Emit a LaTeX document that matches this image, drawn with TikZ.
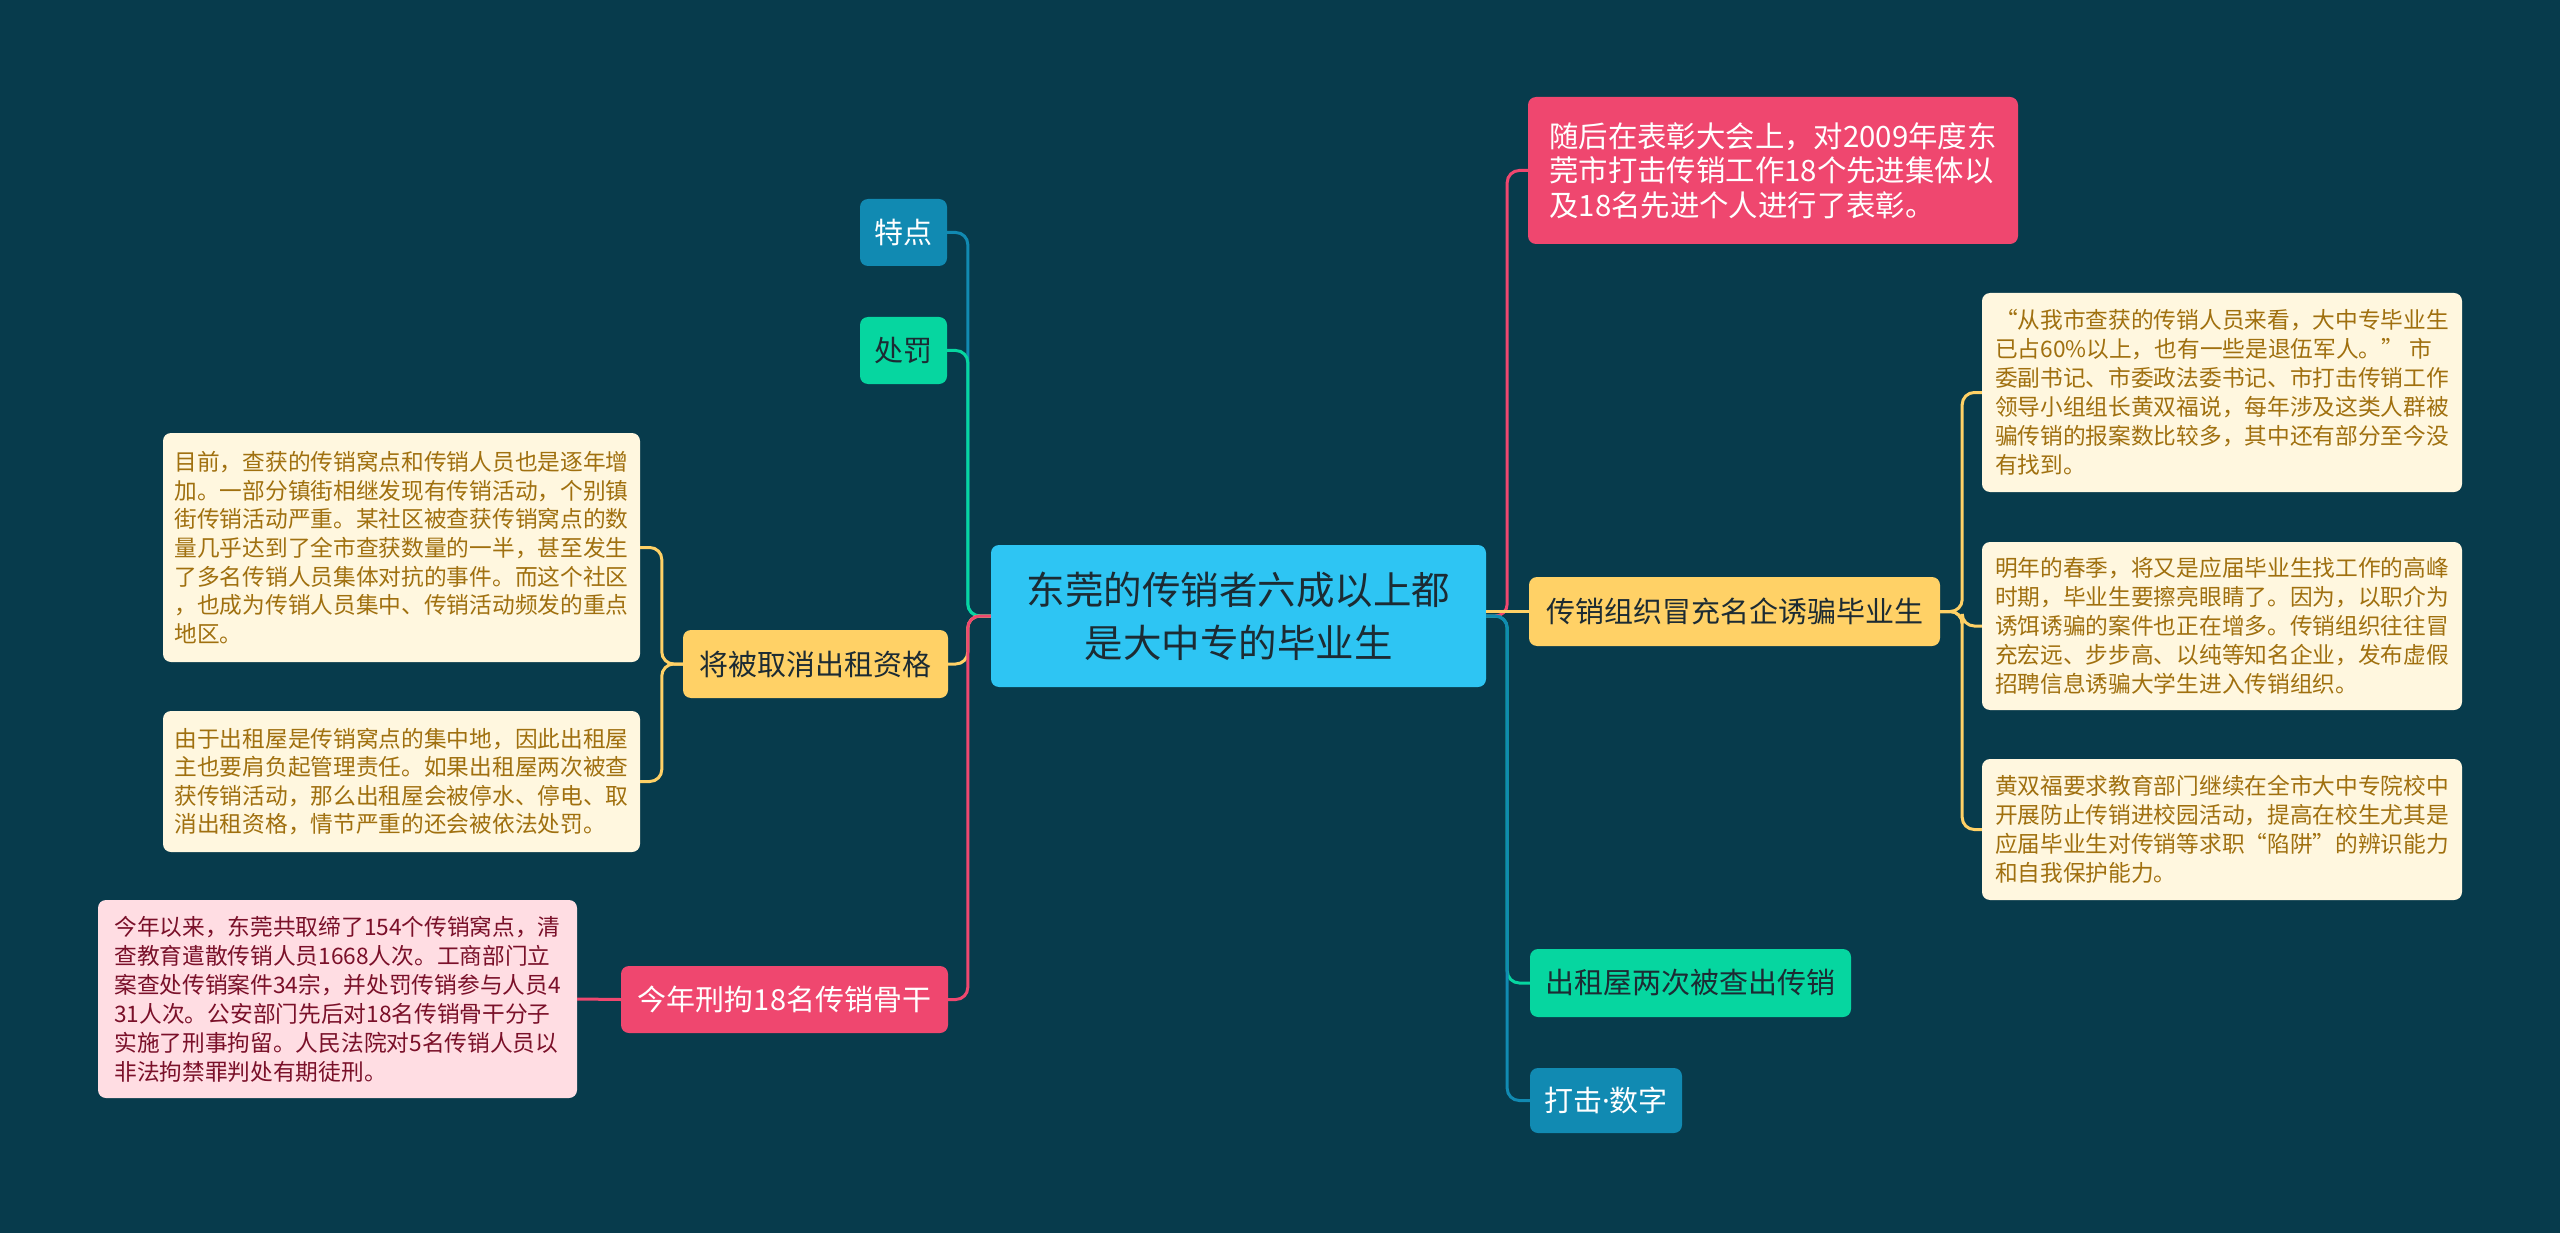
\documentclass[tikz,border=0pt]{standalone}
\usepackage{fontspec}
\setmainfont{Noto Sans CJK SC}
\newfontfamily\latinfont{Noto Sans}
\definecolor{bg}{HTML}{073B4C}
\definecolor{cpink}{HTML}{EF476F}
\definecolor{cyel}{HTML}{FFD166}
\definecolor{cgreen}{HTML}{06D6A0}
\definecolor{cblue}{HTML}{118AB2}
\definecolor{ccenter}{HTML}{2EC5F3}
\definecolor{leafy}{HTML}{FFF7DF}
\definecolor{leafytext}{HTML}{A0700F}
\definecolor{leafp}{HTML}{FFDDE3}
\definecolor{leafptext}{HTML}{7A1029}
\definecolor{darktext}{HTML}{1C2B33}
\begin{document}
\begin{tikzpicture}[x=1pt,y=-1pt,
  box/.style={rounded corners=8pt, inner sep=0pt, align=center},
  lvone/.style={box, font=\fontsize{29}{35}\selectfont},
  leafbox/.style={box, align=left, rounded corners=8pt},
  conn/.style={line width=3pt, rounded corners=12pt}]
\fill[bg] (0,0) rectangle (2560,1233);
\useasboundingbox (0,0) rectangle (2560,1233);

% center
\node[box, fill=ccenter, text=darktext, minimum width=495pt, minimum height=142pt,
  font=\fontsize{38.5}{53}\selectfont] (c) at (1238.5,616) {东莞的传销者六成以上都\\是大中专的毕业生};

% left main branches
\node[lvone, fill=cblue, text=white, minimum width=87pt, minimum height=67pt] (td) at (903.5,232.5) {特点};
\node[lvone, fill=cgreen, text=darktext, minimum width=87pt, minimum height=67pt] (cf) at (903.5,350.5) {处罚};
\node[lvone, fill=cyel, text=darktext, minimum width=265pt, minimum height=68pt] (qx) at (815.5,664) {将被取消出租资格};
\node[lvone, fill=cpink, text=white, minimum width=327pt, minimum height=67pt] (xj) at (784.5,999.5) {今年刑拘18名传销骨干};

% left leaves
\node[leafbox, fill=leafy, text=leafytext, minimum width=477pt, minimum height=229pt,
  font=\fontsize{22.7}{28.6}\selectfont] (l1) at (401.5,547.5)
 {目前，查获的传销窝点和传销人员也是逐年增\\
  加。一部分镇街相继发现有传销活动，个别镇\\
  街传销活动严重。某社区被查获传销窝点的数\\
  量几乎达到了全市查获数量的一半，甚至发生\\
  了多名传销人员集体对抗的事件。而这个社区\\
  ，也成为传销人员集中、传销活动频发的重点\\
  地区。};
\node[leafbox, fill=leafy, text=leafytext, minimum width=477pt, minimum height=141pt,
  font=\fontsize{22.7}{28.6}\selectfont] (l2) at (401.5,781.5)
 {由于出租屋是传销窝点的集中地，因此出租屋\\
  主也要肩负起管理责任。如果出租屋两次被查\\
  获传销活动，那么出租屋会被停水、停电、取\\
  消出租资格，情节严重的还会被依法处罚。};
\node[leafbox, fill=leafp, text=leafptext, minimum width=479pt, minimum height=198pt,
  font=\fontsize{22.7}{29}\selectfont] (l3) at (337.5,999)
 {今年以来，东莞共取缔了154个传销窝点，清\\
  查教育遣散传销人员1668人次。工商部门立\\
  案查处传销案件34宗，并处罚传销参与人员4\\
  31人次。公安部门先后对18名传销骨干分子\\
  实施了刑事拘留。人民法院对5名传销人员以\\
  非法拘禁罪判处有期徒刑。};

% right main branches
\node[box, align=left, fill=cpink, text=white, minimum width=490pt, minimum height=147pt,
  font=\fontsize{29.4}{34.5}\selectfont] (bz) at (1773,170.5)
 {随后在表彰大会上，对2009年度东\\
  莞市打击传销工作18个先进集体以\\
  及18名先进个人进行了表彰。};
\node[lvone, fill=cyel, text=darktext, minimum width=411pt, minimum height=69pt] (mc) at (1734.5,611.5) {传销组织冒充名企诱骗毕业生};
\node[lvone, fill=cgreen, text=darktext, minimum width=321pt, minimum height=68pt] (cz) at (1690.5,983) {出租屋两次被查出传销};
\node[lvone, fill=cblue, text=white, minimum width=152pt, minimum height=65pt] (dj) at (1606,1100.5) {打击{\latinfont ·}数字};

% right leaves
\node[leafbox, fill=leafy, text=leafytext, minimum width=480pt, minimum height=199pt,
  font=\fontsize{22.7}{29}\selectfont] (r1) at (2222,392.5)
 {“从我市查获的传销人员来看，大中专毕业生\\
  已占60\%以上，也有一些是退伍军人。” 市\\
  委副书记、市委政法委书记、市打击传销工作\\
  领导小组组长黄双福说，每年涉及这类人群被\\
  骗传销的报案数比较多，其中还有部分至今没\\
  有找到。};
\node[leafbox, fill=leafy, text=leafytext, minimum width=480pt, minimum height=168pt,
  font=\fontsize{22.7}{29}\selectfont] (r2) at (2222,626)
 {明年的春季，将又是应届毕业生找工作的高峰\\
  时期，毕业生要擦亮眼睛了。因为，以职介为\\
  诱饵诱骗的案件也正在增多。传销组织往往冒\\
  充宏远、步步高、以纯等知名企业，发布虚假\\
  招聘信息诱骗大学生进入传销组织。};
\node[leafbox, fill=leafy, text=leafytext, minimum width=480pt, minimum height=141pt,
  font=\fontsize{22.7}{29}\selectfont] (r3) at (2222,829.5)
 {黄双福要求教育部门继续在全市大中专院校中\\
  开展防止传销进校园活动，提高在校生尤其是\\
  应届毕业生对传销等求职“陷阱”的辨识能力\\
  和自我保护能力。};

% connectors: center to left branches
\draw[conn, cblue] (c.west) -- ++(-23,0) |- (td.east);
\draw[conn, cgreen] (c.west) -- ++(-23,0) |- (cf.east);
\draw[conn, cyel] (c.west) -- ++(-23,0) |- (qx.east);
\draw[conn, cpink] (c.west) -- ++(-23,0) |- (xj.east);
% center to right branches
\draw[conn, cpink] (c.east) -- ++(21,0) |- (bz.west);
\draw[conn, cgreen] (c.east) -- ++(21,0) |- (cz.west);
\draw[conn, cblue] (c.east) -- ++(21,0) |- (dj.west);
\draw[conn, cyel] (c.east |- mc.west) -- (mc.west);
% left leaves
\draw[conn, cyel] (qx.west) -- ++(-21,0) |- (l1.east);
\draw[conn, cyel] (qx.west) -- ++(-21,0) |- (l2.east);
\draw[conn, cpink] (xj.west) -- (l3.east);
% right leaves
\draw[conn, cyel] (mc.east) -- ++(22,0) |- (r1.west);
\draw[conn, cyel] (mc.east) -- ++(22,0) |- (r2.west);
\draw[conn, cyel] (mc.east) -- ++(22,0) |- (r3.west);
\end{tikzpicture}
\end{document}
